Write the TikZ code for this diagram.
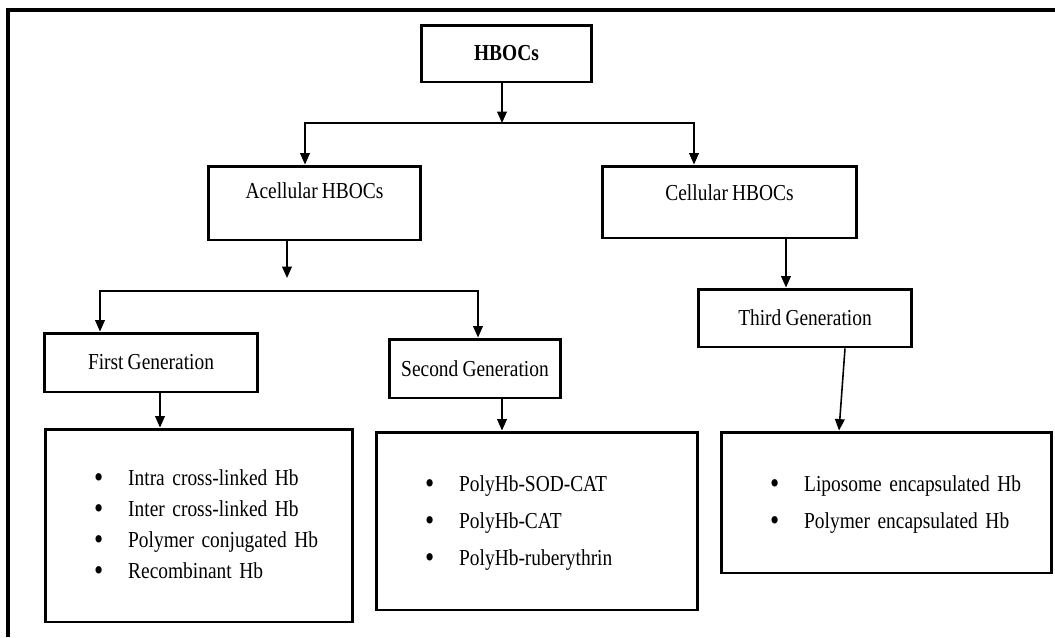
\documentclass[tikz,border=0pt]{standalone}
\usepackage{fontspec}
\setmainfont[FakeStretch=0.85, WordSpace=0.85]{Liberation Serif}
\usetikzlibrary{arrows.meta}
\newcommand{\listdot}{\raisebox{-0.1em}{\scalebox{1.35}{\textbullet}}}

\begin{document}
\begin{tikzpicture}[
  x=0.02cm, y=-0.02cm,
  every node/.style={font=\fontsize{13}{16}\selectfont, inner sep=0pt},
  boxMain/.style={draw, rectangle, line width=1.7pt, align=center},
  boxList/.style={draw, rectangle, line width=1.7pt, align=left},
  arrowLine/.style={draw, line width=0.9pt, -{Triangle[width=5.5pt, length=6.5pt]}},
  arrowBoth/.style={draw, line width=0.9pt, {Triangle[width=5.5pt, length=6.5pt]}-{Triangle[width=5.5pt, length=6.5pt]}},
  frameLine/.style={draw, line width=1.8pt}
  ]
  \useasboundingbox (0,0) rectangle (1055,637);
  \draw[frameLine] (8,637) -- (8,10) -- (1055,10);

  % boxes
  \node[boxMain, minimum width=3.42cm, minimum height=1.14cm, font=\bfseries\fontsize{13}{16}\selectfont] (hboc) at (506.5,53.5) {HBOCs};
  \node[boxMain, minimum width=4.26cm, text height=0.64cm, text depth=0.84cm] (acell) at (314.5,203) {Acellular HBOCs};
  \node[boxMain, minimum width=5.10cm, text height=0.68cm, text depth=0.76cm] (cell) at (729.5,202) {Cellular HBOCs};
  \node[boxMain, minimum width=4.28cm, minimum height=1.18cm] (gen1) at (151,362.5) {First Generation};
  \node[boxMain, minimum width=3.44cm, minimum height=1.18cm] (gen2) at (475,368.5) {Second Generation};
  \node[boxMain, minimum width=4.28cm, minimum height=1.16cm] (gen3) at (805,318) {Third Generation};

  \node[boxList, text width=6.16cm, minimum height=3.86cm, font=\fontsize{13}{17.6}\selectfont] (list1) at (199,525.5)
    {\noindent\hspace*{0.98cm}\begin{tabular}{@{}l@{\hspace{0.5cm}}l@{}}
      \listdot & Intra cross-linked Hb\\
      \listdot & Inter cross-linked Hb\\
      \listdot & Polymer conjugated Hb\\
      \listdot & Recombinant Hb
    \end{tabular}};
  \node[boxList, text width=6.44cm, minimum height=3.56cm, font=\fontsize{13}{21}\selectfont] (list2) at (537,521)
    {\noindent\hspace*{0.98cm}\begin{tabular}{@{}l@{\hspace{0.5cm}}l@{}}
      \listdot & PolyHb-SOD-CAT\\
      \listdot & PolyHb-CAT\\
      \listdot & PolyHb-ruberythrin
    \end{tabular}};
  \node[boxList, text width=6.62cm, minimum height=2.82cm, font=\fontsize{13}{21}\selectfont] (list3) at (886.5,502.5)
    {\noindent\hspace*{0.98cm}\begin{tabular}{@{}l@{\hspace{0.5cm}}l@{}}
      \listdot & Liposome encapsulated Hb\\
      \listdot & Polymer encapsulated Hb
    \end{tabular}};

  % connectors
  \coordinate (hubTop) at (502,123);
  \coordinate (hubLeft) at (305,123);
  \coordinate (hubRight) at (694,123);
  \coordinate (acellTip) at (287,278);
  \coordinate (genLeft) at (100,291);
  \coordinate (genRight) at (478,291);
  \coordinate (gen1Drop) at (160,0);
  \coordinate (gen2Drop) at (502,0);
  \coordinate (cellDrop) at (786,0);

  \draw[arrowLine] (hboc.south -| hubTop) -- (hubTop);
  \draw[arrowBoth] (acell.north -| hubLeft) -- (hubLeft) -- (hubRight) -- (cell.north -| hubRight);
  \draw[arrowLine] (acell.south -| acellTip) -- (acellTip);
  \draw[arrowBoth] (gen1.north -| genLeft) -- (genLeft) -- (genRight) -- (gen2.north -| genRight);
  \draw[arrowLine] (cell.south -| cellDrop) -- (gen3.north -| cellDrop);
  \draw[arrowLine] (gen1.south -| gen1Drop) -- (list1.north -| gen1Drop);
  \draw[arrowLine] (gen2.south -| gen2Drop) -- (list2.north -| gen2Drop);
  \draw[arrowLine] ([xshift=0.8cm]gen3.south) -- ([xshift=-0.95cm]list3.north);
\end{tikzpicture}
\end{document}
